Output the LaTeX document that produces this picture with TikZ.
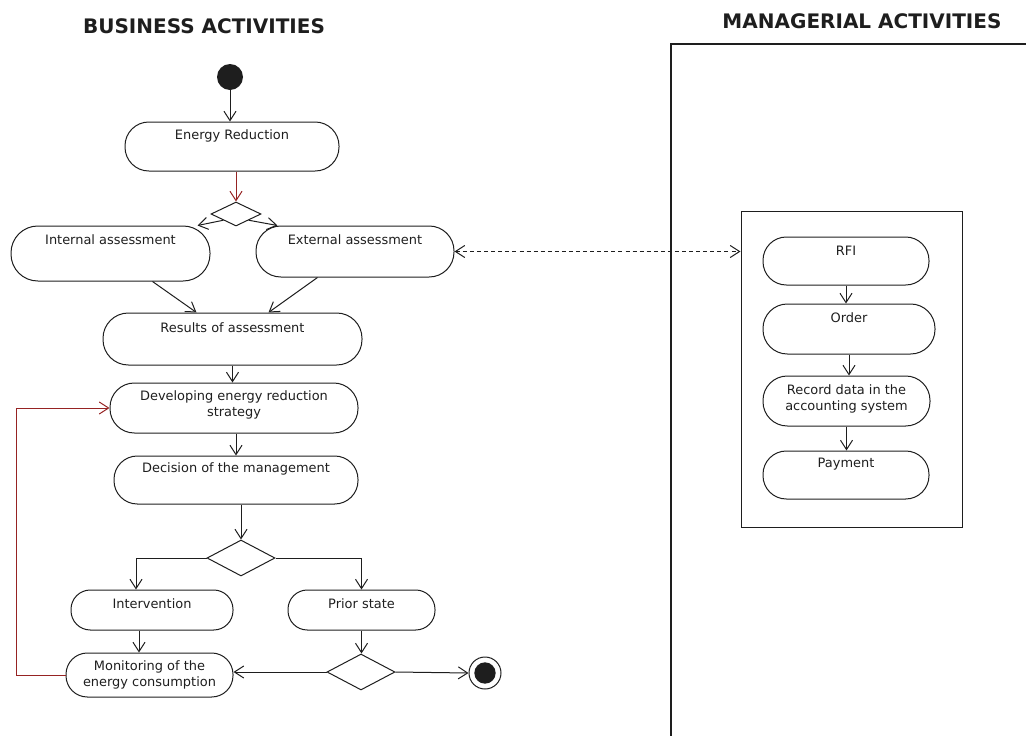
\documentclass[tikz,border=0pt]{standalone}
\usepackage{fontspec}
\setmainfont{DejaVu Sans}
\usetikzlibrary{arrows.meta,shapes.geometric,calc}

\definecolor{ink}{RGB}{30,30,30}
\definecolor{loopred}{RGB}{150,35,35}

\tikzset{
  actbox/.style={draw=ink, line width=0.75pt, inner sep=0pt},
  acttext/.style={text=ink, font=\fontsize{9.7}{12}\selectfont, align=center, inner sep=0pt},
  title/.style={text=ink, font=\fontsize{15}{18}\selectfont\bfseries, inner sep=0pt},
  flow/.style={draw=ink, line width=0.75pt, -{Straight Barb[length=7pt,width=9pt]}},
  backflow/.style={flow, draw=loopred, -{Straight Barb[length=7pt,width=9pt,color=loopred]}},
  msg/.style={draw=ink, line width=0.75pt, dash pattern=on 3pt off 2.3pt,
    {Straight Barb[length=7pt,width=9pt]}-{Straight Barb[length=7pt,width=9pt]}},
  choice/.style={diamond, draw=ink, line width=0.75pt, inner sep=0pt},
  startdot/.style={circle, fill=ink, inner sep=0pt, minimum size=19.5pt},
}

% activity: name, x1, y1, x2, y2, text y, text
\newcommand\act[7]{%
  \pgfmathsetmacro\aw{(#4-#2)*0.75}%
  \pgfmathsetmacro\ah{(#5-#3)*0.75}%
  \pgfmathsetmacro\ar{(#5-#3)*0.75/2-0.5}%
  \node[actbox, minimum width=\aw pt, minimum height=\ah pt, rounded corners=\ar pt]
    (#1) at ({(#2+#4)/2},{(#3+#5)/2}) {};
  \node[acttext] (#1-t) at ({(#2+#4)/2},#6) {#7};
}

\begin{document}
\begin{tikzpicture}[x=0.75pt, y=-0.75pt]
\useasboundingbox (0,0) rectangle (1026,736);

% lane titles
\node[title] (bt) at (204,26) {BUSINESS ACTIVITIES};
\node[title] (mt) at (862,21) {MANAGERIAL ACTIVITIES};

% managerial lane frame
\draw[ink, line width=0.9pt] (1026,44) -- (671,44) -- (671,736);

% business activities
\node[startdot] (start) at (230,77) {};
\act{er}{125}{122}{339}{171}{136}{Energy Reduction}
\node[choice, minimum width=37.5pt, minimum height=18pt] (d1) at (236,214) {};
\act{ia}{11}{226}{210}{281}{240}{Internal assessment}
\act{ea}{256}{226}{454}{277}{240}{External assessment}
\act{ra}{103}{313}{362}{365}{328}{Results of assessment}
\act{ds}{110}{383}{358}{433}{405}{Developing energy reduction\\strategy}
\act{dm}{114}{456}{358}{504}{469}{Decision of the management}
\node[choice, minimum width=51pt, minimum height=27pt] (d2) at (241,558) {};
\act{iv}{71}{590}{233}{630}{604}{Intervention}
\act{ps}{288}{590}{435}{630}{604}{Prior state}
\act{mo}{66}{653}{233}{697}{675}{Monitoring of the\\energy consumption}
\node[choice, minimum width=51pt, minimum height=27pt] (d3) at (361,672) {};
\node[circle, draw=ink, line width=0.75pt, inner sep=0pt, minimum size=24pt] (end) at (485,673) {};
\node[circle, fill=ink, inner sep=0pt, minimum size=16pt] (end-dot) at (end) {};
\coordinate (loop) at (16,408);

% managerial activities
\node[draw=ink, line width=0.75pt, inner sep=0pt, minimum width=165.75pt, minimum height=237pt] (grp) at (851.5,369) {};
\act{rfi}{763}{237}{929}{285}{251}{RFI}
\act{ord}{763}{304}{935}{354}{318}{Order}
\act{rec}{763}{376}{930}{426}{399}{Record data in the\\accounting system}
\act{pay}{763}{451}{929}{499}{464}{Payment}

% control flow
\draw[flow] (start) -- (start |- er.north);
\draw[backflow] (d1 |- er.south) -- (d1.north);
\draw[flow] (d1.south west) -- ($(ia.north east)+(-13,0)$);
\draw[flow] (d1.south east) -- ($(ea.north west)+(22,0)$);
\draw[flow] ($(ia.south east)+(-58,0)$) -- ($(ra.north west)+(94,0)$);
\draw[flow] ($(ea.south west)+(62,0)$) -- ($(ra.north east)+(-94,0)$);
\draw[flow] (ra.south) -- (ra.south |- ds.north);
\draw[flow] ($(ds.south)+(2,0)$) -- ($(ds.south |- dm.north)+(2,0)$);
\draw[flow] (d2 |- dm.south) -- (d2.north);
\draw[flow] (d2.west) -| ($(iv.north)+(-16,0)$);
\draw[flow] (d2.east) -| (ps.north);
\draw[flow] ($(iv.south)+(-13,0)$) -- ($(mo.north)+(-10.5,0)$);
\draw[flow] (ps.south) -- (ps.south |- d3.north);
\draw[flow] (d3.west) -- (d3.west -| mo.east);
\draw[flow] (d3.east) -- (end.west);
\draw[backflow] (mo.west) -| (loop) -- (ds.west);

\draw[msg] (ea.east) -- (ea.east -| grp.west);

\draw[flow] (rfi.south) -- (rfi.south |- ord.north);
\draw[flow] (ord.south) -- (ord.south |- rec.north);
\draw[flow] (rec.south) -- (rec.south |- pay.north);
\end{tikzpicture}
\end{document}
